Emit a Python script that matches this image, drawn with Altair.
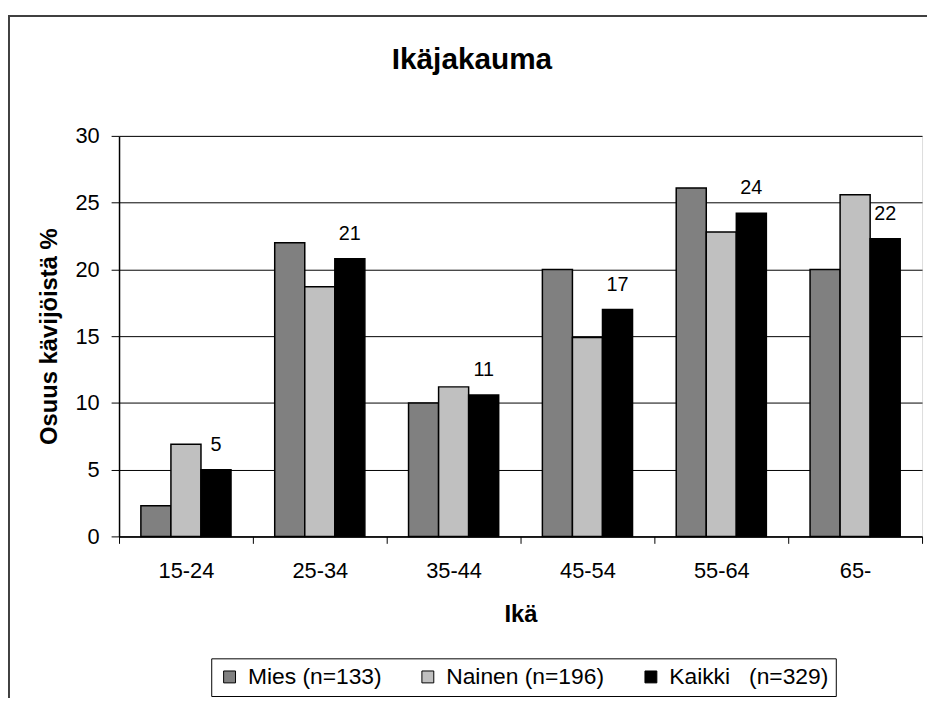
import altair as alt
import pandas as pd

categories = ["15-24", "25-34", "35-44", "45-54", "55-64", "65-"]
series = ["Mies (n=133)", "Nainen (n=196)", "Kaikki\u00a0\u00a0\u00a0(n=329)"]
mies = [2.3, 22.0, 10.0, 20.0, 26.1, 20.0]
nainen = [6.9, 18.7, 11.2, 14.9, 22.8, 25.6]
kaikki = [5.0, 20.8, 10.6, 17.0, 24.2, 22.3]
kaikki_labels = [5, 21, 11, 17, 24, 22]
colors = ["#808080", "#C0C0C0", "#000000"]
y_ticks = [0, 5, 10, 15, 20, 25, 30]
chart_title = ["Ikäjakauma"]

rows = []
for s, vals in zip(series, [mies, nainen, kaikki]):
    for c, v in zip(categories, vals):
        rows.append({"Ika": c, "Sarja": s, "Osuus": v})
df = pd.DataFrame(rows)
lab = pd.DataFrame({
    "Ika": categories,
    "Sarja": [series[2]] * len(categories),
    "Osuus": kaikki,
    "Label": [str(v) for v in kaikki_labels],
})

FONT = "Liberation Sans"
W, H = 810, 404

x_enc = alt.X(
    "Ika:N",
    sort=categories,
    scale=alt.Scale(domain=categories, paddingInner=0, paddingOuter=0),
    axis=alt.Axis(
        title="Ikä",
        labelAngle=0,
        tickBand="extent",
        tickSize=7,
        tickColor="black",
        domainColor="black",
        domainWidth=1.5,
        labelFontSize=22,
        labelFont=FONT,
        labelColor="black",
        labelPadding=17,
        titleFontSize=24,
        titleFont=FONT,
        titleFontWeight="bold",
        titleColor="black",
        titlePadding=22,
        grid=False,
    ),
)
xo_enc = alt.XOffset(
    "Sarja:N",
    scale=alt.Scale(domain=series, paddingInner=0, paddingOuter=0.727),
)
y_enc = alt.Y(
    "Osuus:Q",
    scale=alt.Scale(domain=[0, 30], nice=False),
    axis=alt.Axis(
        values=y_ticks,
        title="Osuus kävijöistä %",
        tickSize=8,
        tickColor="black",
        domainColor="black",
        domainWidth=1.5,
        grid=True,
        gridColor="black",
        gridWidth=1,
        labelFontSize=22,
        labelFont=FONT,
        labelColor="black",
        labelPadding=12,
        titleFontSize=24,
        titleFont=FONT,
        titleFontWeight="bold",
        titleColor="black",
        titlePadding=14,
    ),
)

bars = alt.Chart(df).mark_bar(stroke="black", strokeWidth=1.5, opacity=1).encode(
    x=x_enc,
    xOffset=xo_enc,
    y=y_enc,
    color=alt.Color(
        "Sarja:N",
        scale=alt.Scale(domain=series, range=colors),
        legend=alt.Legend(
            title=None,
            orient="none",
            legendX=93,
            legendY=527,
            direction="horizontal",
            fillColor="white",
            strokeColor="black",
            padding=7,
            symbolType="square",
            symbolSize=144,
            symbolStrokeColor="black",
            symbolStrokeWidth=1,
            symbolOpacity=1,
            labelFontSize=23,
            labelFont=FONT,
            labelColor="black",
            labelOffset=7,
            labelLimit=0,
            columnPadding=35,
        ),
    ),
)

labels = alt.Chart(lab).mark_text(
    dy=-25, baseline="middle", align="center", fontSize=20, font=FONT, color="black"
).encode(
    x=alt.X("Ika:N", sort=categories),
    xOffset=alt.XOffset("Sarja:N", scale=alt.Scale(domain=series)),
    y=alt.Y("Osuus:Q"),
    text="Label:N",
)

title_mark = alt.Chart(pd.DataFrame({"t": chart_title})).mark_text(
    fontSize=30, font=FONT, fontWeight="bold", color="black",
    align="center", baseline="middle",
).encode(
    x=alt.value(356),
    y=alt.value(-76),
    text="t:N",
)

frame = alt.Chart(pd.DataFrame({"f": [0]})).mark_rect(
    fillOpacity=0, stroke="#404040", strokeWidth=2
).encode(
    x=alt.value(-111),
    x2=alt.value(W + 40),
    y=alt.value(-121),
    y2=alt.value(H + 300),
)

chart = alt.layer(frame, bars, labels, title_mark).properties(
    width=W,
    height=H,
    autosize=alt.AutoSizeParams(type="none"),
    padding={"left": 112, "top": 126, "right": 5, "bottom": 160},
).configure_view(
    stroke="#808080", strokeWidth=2
).configure(background="white")

chart.save("out.html", embed_options={"renderer": "svg", "actions": False})
